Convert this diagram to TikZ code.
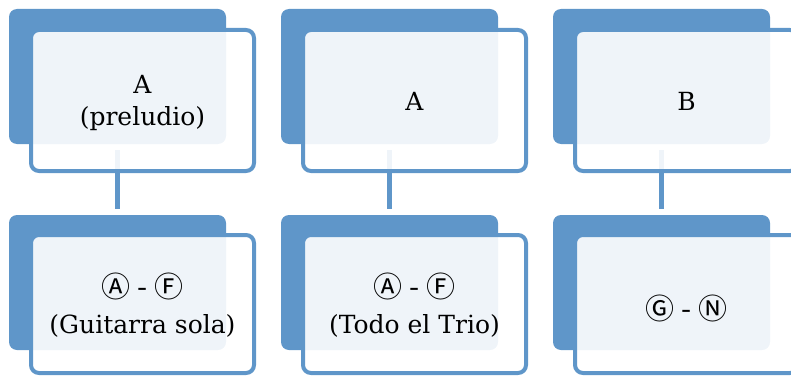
\documentclass[tikz,border=0pt]{standalone}
\usepackage{fontspec}
\setmainfont{DejaVu Serif}
\newfontfamily\circfont{Noto Sans CJK JP}
\definecolor{smblue}{HTML}{5F96C9}
\newcommand{\circline}[1]{{\circfont\fontsize{29}{30}\selectfont #1}}
\begin{document}
\begin{tikzpicture}[x=1pt,y=-1pt,
  backbox/.style={fill=smblue, rounded corners=8pt, minimum width=217pt, minimum height=135pt, inner sep=0pt, draw=none},
  frontbox/.style={draw=smblue, line width=4pt, fill=white, fill opacity=0.9, rounded corners=8pt,
    minimum width=223pt, inner sep=0pt},
  toph/.style={minimum height=141pt},
  both/.style={minimum height=138pt},
  txt/.style={inner sep=0pt, align=center, font=\fontsize{25}{32}\selectfont},
  link/.style={draw=smblue, line width=5pt, shorten <=6pt, shorten >=6pt}]
\useasboundingbox (0,0) rectangle (791,377);
\clip (0,0) rectangle (791,377);
% back rectangles
\foreach \i/\dx in {1/0,2/272,3/544}{
  \node[backbox] (bt\i) at (117.5+\dx,76.5) {};
  \node[backbox] (bb\i) at (117.5+\dx,282.5) {};
}
% connectors
\draw[link] (bt1.south) -- (bb1.north);
\draw[link] (bt2.south) -- (bb2.north);
\draw[link] (bt3.south) -- (bb3.north);
% front boxes
\foreach \i/\dx in {1/0,2/272,3/544}{
  \node[frontbox,toph] (ft\i) at (142.5+\dx,100.5) {};
  \node[frontbox,both] (fb\i) at (142.5+\dx,304) {};
}
% texts
\node[txt] (tt1) at ([yshift=-2pt]ft1.center) {A\\(preludio)};
\node[txt] (tt2) at ([yshift=-1pt]ft2.center) {A};
\node[txt] (tt3) at ([yshift=-1pt]ft3.center) {B};
\node[txt] (tb1) at ([yshift=-1pt]fb1.center) {\circline{Ⓐ - Ⓕ}\\[4pt](Guitarra sola)};
\node[txt] (tb2) at ([yshift=-1pt]fb2.center) {\circline{Ⓐ - Ⓕ}\\[4pt](Todo el Trio)};
\node[txt] (tb3) at ([yshift=-4pt]fb3.center) {\circline{Ⓖ - Ⓝ}};
\end{tikzpicture}
\end{document}
